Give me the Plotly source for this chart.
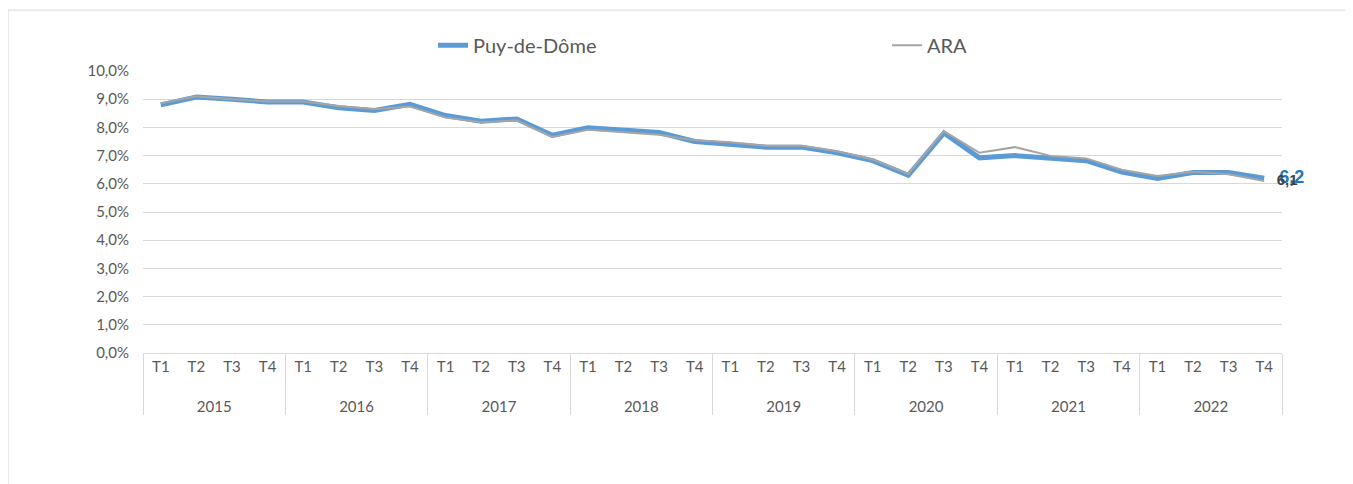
import plotly.graph_objects as go

ANNEES = ["2015", "2016", "2017", "2018", "2019", "2020", "2021", "2022"]
TRIMESTRES = ["T1", "T2", "T3", "T4"]

# taux de chômage en %
PUY_DE_DOME = [8.8, 9.08, 9.0, 8.9,
               8.9, 8.7, 8.6, 8.82,
               8.42, 8.22, 8.3, 7.72,
               7.99, 7.91, 7.82, 7.5,
               7.42, 7.3, 7.3, 7.1,
               6.82, 6.3, 7.8, 6.92,
               7.0, 6.92, 6.82, 6.42,
               6.19, 6.4, 6.4, 6.2]
ARA = [8.86, 9.1, 9.0, 8.92,
       8.92, 8.76, 8.64, 8.74,
       8.35, 8.18, 8.25, 7.66,
       7.92, 7.84, 7.74, 7.54,
       7.47, 7.35, 7.35, 7.15,
       6.86, 6.35, 7.87, 7.1,
       7.3, 6.99, 6.9, 6.5,
       6.28, 6.43, 6.34, 6.1]

# ligne vide devant l'année pour l'écarter des trimestres (comme sous Excel)
x_annee = ["<br>" + a for a in ANNEES for _ in TRIMESTRES]
x_trim = TRIMESTRES * len(ANNEES)

GRIS_TXT = "#595959"
FONT = "Lato, 'Noto Sans', sans-serif"
FONT_GRAS = "'Liberation Sans', Arial, sans-serif"


def etiquette_fin(valeurs):
    # seule la dernière valeur est affichée
    return [""] * (len(valeurs) - 1) + ["\u00a0\u00a0\u00a0" + f"{valeurs[-1]:.1f}".replace(".", ",")]


fig = go.Figure()
fig.add_trace(go.Scatter(
    x=[x_annee, x_trim], y=PUY_DE_DOME, name="Puy-de-Dôme", mode="lines+text",
    line=dict(color="#5b9bd5", width=5), cliponaxis=False,
    text=etiquette_fin(PUY_DE_DOME), textposition="middle right",
    textfont=dict(color="#2275c0", size=18, family=FONT_GRAS, weight="bold"),
))
fig.add_trace(go.Scatter(
    x=[x_annee, x_trim], y=ARA, name="ARA", mode="lines+text",
    line=dict(color="#a5a5a5", width=2), cliponaxis=False,
    text=etiquette_fin(ARA), textposition="middle right",
    textfont=dict(color="#404040", size=15, family=FONT_GRAS, weight="bold"),
))

fig.update_layout(
    width=1345, height=476,
    margin=dict(l=135, r=71, t=63, b=131, autoexpand=False),
    paper_bgcolor="white", plot_bgcolor="white",
    font=dict(family=FONT, color=GRIS_TXT, size=14),
    separators=", ",
    showlegend=True,
    legend=dict(orientation="h", xref="container", yref="container",
                x=0.316, y=0.922, xanchor="left", yanchor="middle",
                entrywidth=409, entrywidthmode="pixels",
                font=dict(size=20, color=GRIS_TXT), itemwidth=30),
    shapes=[dict(type="rect", xref="paper", yref="paper",
                 x0=-0.1185, x1=1.3, y0=-1.0, y1=1.216,
                 line=dict(color="#d9d9d9", width=1), layer="below")],
)
fig.update_yaxes(range=[0, 10], dtick=1, tickformat=".1f", ticksuffix="%",
                 showgrid=True, gridcolor="#d9d9d9", gridwidth=1,
                 zeroline=False, showline=False, ticks="",
                 ticklabelstandoff=13,
                 tickfont=dict(size=15, color=GRIS_TXT))
fig.update_xaxes(type="multicategory", range=[-0.5, 31.5], autorange=False,
                 showgrid=False, showline=True,
                 linecolor="#d9d9d9", showdividers=True,
                 dividercolor="#d9d9d9", dividerwidth=1,
                 ticks="outside", ticklen=12, tickcolor="rgba(0,0,0,0)",
                 tickfont=dict(size=15, color=GRIS_TXT))

fig.write_html("out.html")
